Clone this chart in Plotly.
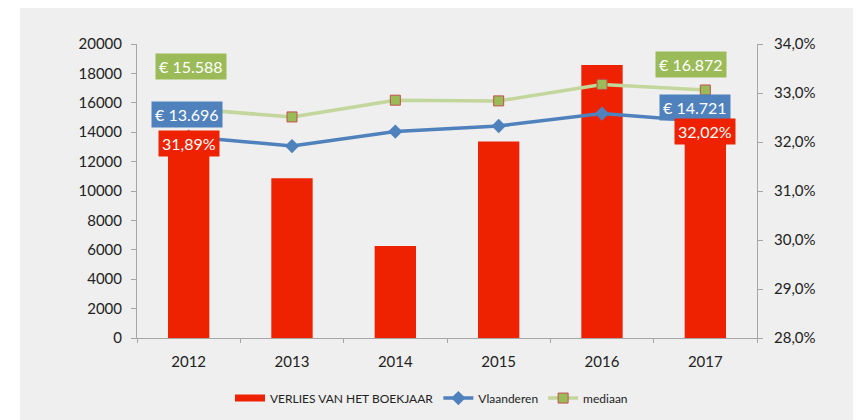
import plotly.graph_objects as go

years = ["2012", "2013", "2014", "2015", "2016", "2017"]
verlies_pct = [31.89, 31.26, 29.88, 32.01, 33.57, 32.02]
vlaanderen = [13696, 13058, 14041, 14423, 15270, 14721]
mediaan = [15588, 15038, 16178, 16130, 17250, 16872]

left_ticks = list(range(0, 20001, 2000))
right_ticks = [28, 29, 30, 31, 32, 33, 34]
right_labels = [f"{v:.1f}".replace(".", ",") + "%" for v in right_ticks]

RED = "#ee2200"
BLUE = "#4f81bd"
GREEN_LINE = "#c3d69b"
GREEN = "#9bbb59"
FONT = "Lato, 'Open Sans', sans-serif"

fig = go.Figure()
fig.add_trace(go.Bar(
    x=years, y=verlies_pct, name="VERLIES VAN HET BOEKJAAR", showlegend=False,
    legendgroup="verlies",
    marker=dict(color=RED, line=dict(width=0)), yaxis="y",
))
# legend key for the bars, drawn as a wide red band like the original
fig.add_trace(go.Scatter(
    x=[None], y=[None], name="VERLIES VAN HET BOEKJAAR", mode="lines",
    legendgroup="verlies", legendrank=1,
    line=dict(color=RED, width=7), yaxis="y",
))
fig.add_trace(go.Scatter(
    x=years, y=vlaanderen, name="Vlaanderen", mode="lines+markers", legendrank=2,
    line=dict(color=BLUE, width=3.5),
    marker=dict(symbol="diamond", size=11, color=BLUE), yaxis="y2",
))
fig.add_trace(go.Scatter(
    x=years, y=mediaan, name="mediaan", mode="lines+markers", legendrank=3,
    line=dict(color=GREEN_LINE, width=3.5),
    marker=dict(symbol="square", size=10, color=GREEN,
                line=dict(color="#c0504d", width=1)), yaxis="y2",
))

def lab(i, y, text, bg, yref, xshift, yshift):
    return dict(x=i, y=y, xref="x", yref=yref, text=text, showarrow=False,
                font=dict(family=FONT, size=16, color="white"),
                bgcolor=bg, borderpad=3, xshift=xshift, yshift=yshift)

annotations = [
    lab(0, mediaan[0], "€ 15.588", GREEN, "y2", 2, 42),
    lab(0, vlaanderen[0], "€ 13.696", BLUE, "y2", -2, 22),
    lab(0, verlies_pct[0], "31,89%", RED, "y", 0, 4),
    lab(5, mediaan[5], "€ 16.872", GREEN, "y2", -14, 25),
    lab(5, vlaanderen[5], "€ 14.721", BLUE, "y2", -10, 14),
    lab(5, verlies_pct[5], "32,02%", RED, "y", 0, 10),
]

axis_font = dict(family=FONT, size=15, color="#222222")

fig.update_layout(
    width=861, height=420,
    margin=dict(l=129, r=112, t=36, b=90),
    paper_bgcolor="#efefef", plot_bgcolor="rgba(0,0,0,0)",
    bargap=0.6,
    showlegend=True,
    legend=dict(orientation="h", x=0.475, xanchor="center", y=-0.155, yanchor="top",
                font=dict(family=FONT, size=12, color="#222222"),
                bgcolor="rgba(0,0,0,0)", traceorder="normal",
                itemwidth=30),
    xaxis=dict(type="category", categoryorder="array", categoryarray=years,
               range=[-0.5, len(years) - 0.5], showgrid=False, showline=True,
               linecolor="#a6a6a6", linewidth=1, ticks="outside", ticklen=4,
               tickcolor="#a6a6a6", tickson="boundaries", tickfont=axis_font,
               tickangle=0, ticklabelstandoff=10, zeroline=False),
    yaxis=dict(side="right", range=[28, 34], tickvals=right_ticks, ticktext=right_labels,
               showgrid=False, showline=True,
               linecolor="#a6a6a6", ticks="outside", ticklen=5, tickcolor="#a6a6a6",
               tickfont=axis_font, ticklabelstandoff=8, zeroline=False),
    yaxis2=dict(side="left", overlaying="y", range=[0, 20000], tickvals=left_ticks,
                ticktext=[str(v) for v in left_ticks], showgrid=False, showline=True,
                linecolor="#a6a6a6", ticks="outside", ticklen=5, tickcolor="#a6a6a6",
                tickfont=axis_font, ticklabelstandoff=6, zeroline=False),
    annotations=annotations,
    shapes=[
        dict(type="rect", xref="paper", yref="paper", x0=-0.3, x1=(12 - 129) / 620,
             y0=-0.4, y1=1.3, fillcolor="white", line=dict(width=0), layer="above"),
    ],
)

fig.write_html("out.html")
